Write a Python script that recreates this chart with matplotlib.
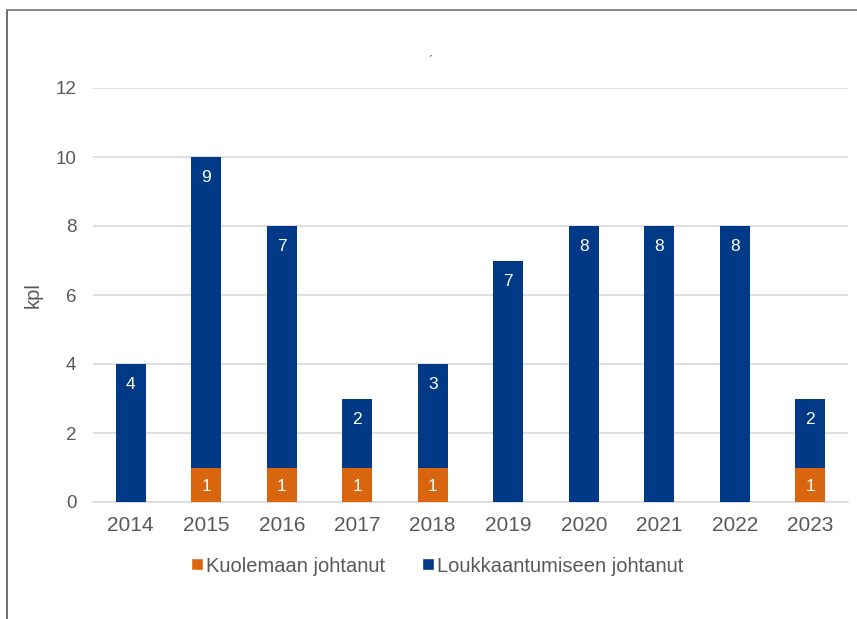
import matplotlib
matplotlib.use("Agg")
import matplotlib.pyplot as plt
import numpy as np
from matplotlib.lines import Line2D

plt.rcParams['font.family'] = ['Liberation Sans', 'DejaVu Sans']

years = ["2014", "2015", "2016", "2017", "2018", "2019", "2020", "2021", "2022", "2023"]
kuolema = [0, 1, 1, 1, 1, 0, 0, 0, 0, 1]
loukkaantuminen = [4, 9, 7, 2, 3, 7, 8, 8, 8, 2]
series_names = ["Kuolemaan johtanut", "Loukkaantumiseen johtanut"]
y_ticks = [0, 2, 4, 6, 8, 10, 12]

orange = "#D9650E"
blue = "#003A87"
gray = "#595959"

fig = plt.figure(figsize=(8.57, 6.19), dpi=100)
ax = fig.add_axes([93/857, 1-502/619, (848-93)/857, (502-88)/619])

x = np.arange(len(years))
w = 0.40
ax.bar(x, kuolema, w, color=orange, zorder=3)
ax.bar(x, loukkaantuminen, w, bottom=kuolema, color=blue, zorder=3)

for i in range(len(years)):
    if kuolema[i] > 0:
        ax.text(x[i], kuolema[i] / 2 - 0.05, str(kuolema[i]), ha='center', va='center',
                color='white', fontsize=12.5, zorder=4)
    top = kuolema[i] + loukkaantuminen[i]
    ax.text(x[i], top - 0.6, str(loukkaantuminen[i]), ha='center', va='center',
            color='white', fontsize=12.5, zorder=4)

ax.set_xlim(-0.5, len(years) - 0.5)
ax.set_ylim(0, 12)
ax.set_yticks(y_ticks)
ax.set_xticks(x)
ax.set_xticklabels(years)
ax.yaxis.grid(True, color="#D9D9D9", linewidth=1.2, zorder=0)
ax.set_axisbelow(True)
for s in ["top", "right", "left"]:
    ax.spines[s].set_visible(False)
ax.spines["bottom"].set_color("#D9D9D9")
ax.spines["bottom"].set_linewidth(1.2)
ax.tick_params(axis='y', length=0, labelsize=13.5, labelcolor=gray, pad=12)
ax.tick_params(axis='x', length=0, labelsize=15, labelcolor=gray, pad=10)
ax.set_ylabel("kpl", fontsize=14.5, color=gray, labelpad=9)

handles = [Line2D([0], [0], marker='s', color='w', markerfacecolor=orange, markersize=8.5, linestyle='None'),
           Line2D([0], [0], marker='s', color='w', markerfacecolor=blue, markersize=8.5, linestyle='None')]
fig.legend(handles, series_names, loc='center', bbox_to_anchor=(436/857, 1-566/619),
           ncol=2, frameon=False, fontsize=14.5, handletextpad=0.05, columnspacing=1.7,
           labelcolor=gray, handlelength=0.8)

fig.text(431/857, 1-62/619, "´", fontsize=9, color=gray, ha='center', va='center')

# frame lines (top and left)
fig.add_artist(Line2D([7/857, 7/857], [0, 1-10/619], color="#555555", linewidth=1.2, transform=fig.transFigure))
fig.add_artist(Line2D([7/857, 1], [1-10/619, 1-10/619], color="#777777", linewidth=1.2, transform=fig.transFigure))

fig.savefig("out.png", dpi=100)
